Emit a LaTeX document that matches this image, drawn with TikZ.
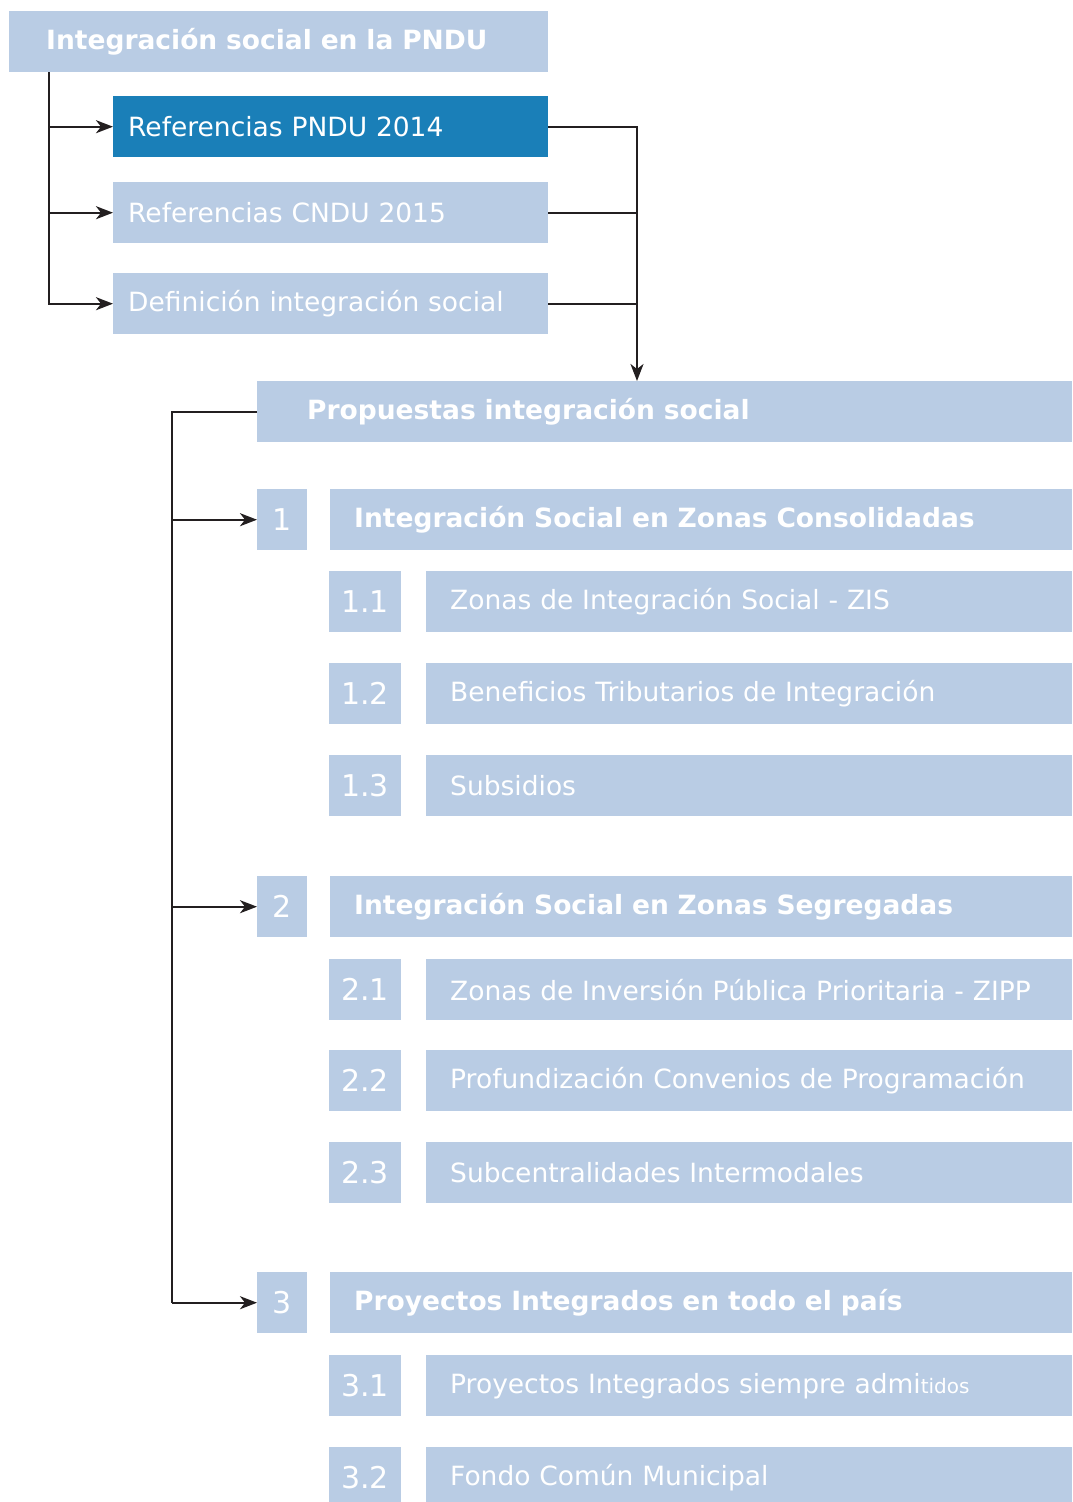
\documentclass[tikz,border=0pt]{standalone}
\usepackage{fontspec}
\setmainfont{DejaVu Sans}
\usetikzlibrary{arrows.meta}
\definecolor{boxblue}{RGB}{185,204,228}
\definecolor{darkblue}{RGB}{26,127,184}
\definecolor{linegray}{RGB}{35,31,32}
\begin{document}
\begin{tikzpicture}[x=1pt,y=-1pt,>={Stealth[length=17pt,width=13pt,inset=5pt]},
	bx/.style={fill=boxblue,text=white,anchor=north west,minimum height=61pt,inner ysep=0pt,align=left,font=\fontsize{26.5}{30}\selectfont},
	bbx/.style={bx,font=\fontsize{26.5}{30}\selectfont\bfseries},
	numbx/.style={fill=boxblue,text=white,anchor=north west,minimum height=61pt,inner ysep=0pt,inner xsep=0pt,font=\fontsize{30}{34}\selectfont},
	conn/.style={linegray,line width=2.2pt}]

\useasboundingbox (0,0) rectangle (1072,1502);
\clip (0,0) rectangle (1072,1502);

% The upper boxes
\node[bbx,inner xsep=37pt,text width=465pt] (pndu) at (9,11) {Integración social en la PNDU};
\node[bx,fill=darkblue,inner xsep=15pt,text width=405pt] (ref14) at (113,96) {Referencias PNDU 2014};
\node[bx,inner xsep=15pt,text width=405pt] (ref15) at (113,182) {Referencias CNDU 2015};
\node[bx,inner xsep=15pt,text width=405pt] (defin) at (113,273) {Definición integración social};

\node[bbx,inner xsep=50pt,text width=715pt] (prop) at (257,381) {Propuestas integración social};

% The three proposals
\node[numbx,minimum width=50pt] (num1) at (257,489) {1};
\node[bbx,inner xsep=24pt,text width=694pt] (tit1) at (330,489) {Integración Social en Zonas Consolidadas};
\node[numbx,minimum width=50pt] (num2) at (257,876) {2};
\node[bbx,inner xsep=24pt,text width=694pt] (tit2) at (330,876) {Integración Social en Zonas Segregadas};
\node[numbx,minimum width=50pt] (num3) at (257,1272) {3};
\node[bbx,inner xsep=24pt,text width=694pt] (tit3) at (330,1272) {Proyectos Integrados en todo el país};

% The sub items
\foreach \nm/\yy/\num/\txt in {
	a/571/1.1/Zonas de Integración Social - ZIS,
	b/663/1.2/Beneficios Tributarios de Integración,
	c/755/1.3/Subsidios,
	d/959/2.1/Zonas de Inversión Pública Prioritaria - ZIPP,
	e/1050/2.2/Profundización Convenios de Programación,
	f/1142/2.3/Subcentralidades Intermodales,
	g/1355/3.1/Proyectos Integrados siempre admi{\fontsize{20}{24}\selectfont tidos},
	h/1447/3.2/Fondo Común Municipal}
{
	\node[numbx,minimum width=72pt] (num\nm) at (329,\yy) {\num};
	\node[bx,inner xsep=24pt,text width=598pt] (txt\nm) at (426,\yy) {\txt};
}

% The connectors on the left
\draw[conn,->] (pndu.south west) ++(40,0) |- (ref14.west);
\draw[conn,->] (pndu.south west) ++(40,0) |- (ref15.west);
\draw[conn,->] (pndu.south west) ++(40,0) |- (defin.west);

% The connectors on the right
\coordinate (rjoin) at (637,0);
\draw[conn,->] (ref14.east) -| (rjoin |- prop.north);
\draw[conn] (ref15.east) -- (ref15.east -| rjoin);
\draw[conn] (defin.east) -- (defin.east -| rjoin);

% The lower trunk
\coordinate (ltrunk) at (172,0);
\draw[conn] (prop.west) -| (ltrunk |- num3.west);
\foreach \k in {1,2,3}
{
	\draw[conn,->] (ltrunk |- num\k.west) -- (num\k.west);
}

\end{tikzpicture}
\end{document}
